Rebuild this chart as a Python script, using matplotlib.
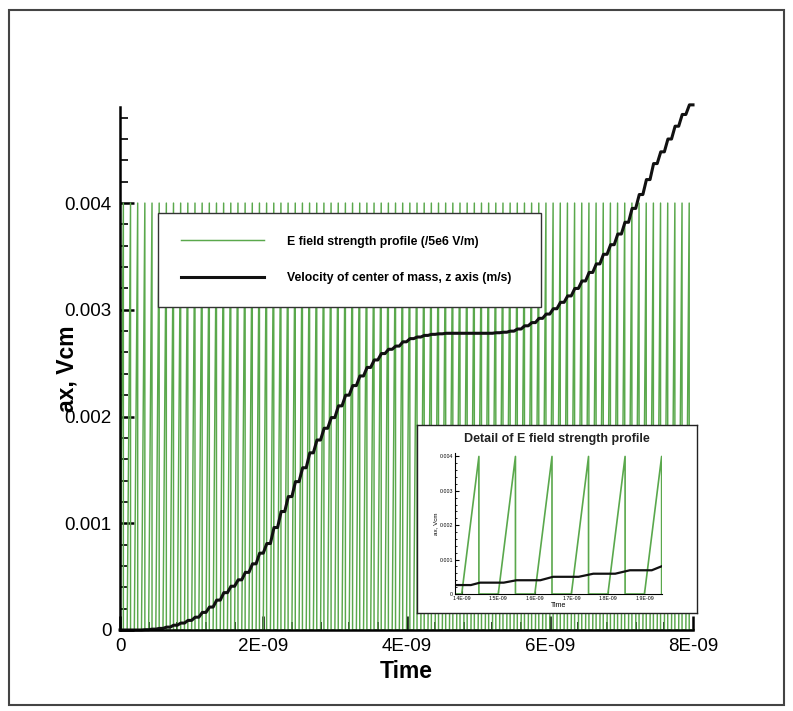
import numpy as np
import matplotlib
matplotlib.use("Agg")
import matplotlib.pyplot as plt
from matplotlib.ticker import MultipleLocator, FuncFormatter
from matplotlib.patches import Rectangle

plt.rcParams['font.family'] = ['Liberation Sans', 'DejaVu Sans']

# E field pulse train (scaled /5e6 V/m): one saw-tooth per period
pulse_period = 1e-10
pulse_count = 80
shape_frac = [0.0, 0.47, 0.47, 1.0]      # time within a period (fraction)
shape_field = [0.0, 0.004, 0.0, 0.0]     # field value at those times

# velocity of centre of mass at the start of each pulse period (m/s)
vel = np.array([
    0.0, 0.0, 0.0, 0.0, 0.003, 0.008, 0.015, 0.027, 0.045, 0.065,
    0.09, 0.12, 0.165, 0.215, 0.28, 0.35, 0.41, 0.47, 0.54, 0.62,
    0.72, 0.81, 0.96, 1.11, 1.25, 1.39, 1.52, 1.66, 1.78, 1.89,
    1.99, 2.10, 2.20, 2.29, 2.38, 2.46, 2.53, 2.59, 2.63, 2.66,
    2.70, 2.73, 2.745, 2.76, 2.77, 2.775, 2.78, 2.78, 2.78, 2.78,
    2.78, 2.78, 2.78, 2.785, 2.79, 2.80, 2.82, 2.85, 2.88, 2.92,
    2.96, 3.01, 3.07, 3.13, 3.20, 3.27, 3.35, 3.43, 3.52, 3.61,
    3.71, 3.82, 3.95, 4.08, 4.22, 4.37, 4.48, 4.60, 4.72, 4.83,
    4.92]) * 1e-3

# inset: detail between 1.38E-09 and 1.95E-09
inset_t = np.array([1.382, 1.425, 1.45, 1.515, 1.55, 1.615, 1.65,
                    1.72, 1.76, 1.82, 1.86, 1.92, 1.948]) * 1e-9
inset_v = np.array([0.26, 0.26, 0.33, 0.33, 0.40, 0.40, 0.50,
                    0.50, 0.59, 0.59, 0.69, 0.69, 0.81]) * 1e-3

starts = np.arange(pulse_count) * pulse_period
field_t = (starts[:, None] + np.array(shape_frac)[None, :] * pulse_period).ravel()
field_v = np.tile(shape_field, pulse_count)

# velocity rises while the pulse is on, then stays flat
vel_t = np.append(np.column_stack([starts, starts + 0.5 * pulse_period]).ravel(),
                  pulse_count * pulse_period)
vel_y = np.append(np.column_stack([vel[:-1], vel[1:]]).ravel(), vel[-1])

W, H = 793, 711
fig = plt.figure(figsize=(W / 100, H / 100), dpi=100)

ax = fig.add_axes([120 / W, 1 - 630 / H, 573 / W, 523 / H])
ax.plot(field_t, field_v, color='#5aa84c', lw=1.05,
        label='E field strength profile (/5e6 V/m)')
ax.plot(vel_t, vel_y, color='#111111', lw=2.2, clip_on=False,
        label='Velocity of center of mass, z axis (m/s)')
ax.set_xlim(0, 8e-9)
ax.set_ylim(0, 0.0049)
for s in ['top', 'right']:
    ax.spines[s].set_visible(False)
for s in ['left', 'bottom']:
    ax.spines[s].set_linewidth(1.8)
ax.xaxis.set_major_locator(MultipleLocator(2e-9))
ax.xaxis.set_minor_locator(MultipleLocator(4e-10))
ax.yaxis.set_major_locator(MultipleLocator(0.001))
ax.yaxis.set_minor_locator(MultipleLocator(0.0002))
ax.xaxis.set_major_formatter(FuncFormatter(lambda x, p: '0' if abs(x) < 1e-20 else '%.0E' % x))
ax.yaxis.set_major_formatter(FuncFormatter(lambda y, p: '0' if abs(y) < 1e-12 else '%g' % y))
ax.tick_params(which='major', direction='in', length=10, width=1.8, labelsize=13.5, pad=6)
ax.tick_params(which='minor', direction='in', length=6, width=1.2)
ax.set_xlabel('Time', fontsize=16.5, fontweight='bold', labelpad=3)
ax.set_ylabel('ax, Vcm', fontsize=16.5, fontweight='bold')
ax.yaxis.set_label_coords(-0.072, 0.5)

leg = ax.legend(loc='upper left', bbox_to_anchor=(158 / W, 1 - 303 / H, 383 / W, 90 / H),
                bbox_transform=fig.transFigure, mode='expand', borderaxespad=0,
                prop={'size': 8.8, 'weight': 'bold'}, handlelength=6.8, handletextpad=1.9,
                borderpad=1.85, labelspacing=2.0, fancybox=False, framealpha=1,
                edgecolor='#333333')
leg.get_frame().set_linewidth(1.0)

# inset box
box = fig.add_axes([417 / W, 1 - 613 / H, 280 / W, 188 / H])
box.set_xticks([])
box.set_yticks([])
box.set_facecolor('white')
for s in box.spines.values():
    s.set_linewidth(1.0)
    s.set_color('#222222')
fig.text(557 / W, 1 - 439 / H, 'Detail of E field strength profile',
         ha='center', va='center', fontsize=9, fontweight='bold', color='#222222')

ins = fig.add_axes([455 / W, 1 - 594 / H, 207 / W, 141 / H])
ins.patch.set_alpha(0)
ins.plot(field_t, field_v, color='#5aa84c', lw=1.2)
ins.plot(inset_t, inset_v, color='#111111', lw=1.6)
ins.set_xlim(1.3816e-9, 1.948e-9)
ins.set_ylim(0, 0.0041)
for s in ['top', 'right']:
    ins.spines[s].set_visible(False)
ins.xaxis.set_major_locator(MultipleLocator(1e-10))
ins.yaxis.set_major_locator(MultipleLocator(0.001))
ins.yaxis.set_minor_locator(MultipleLocator(0.0002))
ins.xaxis.set_major_formatter(FuncFormatter(lambda x, p: '%.1E' % x))
ins.yaxis.set_major_formatter(FuncFormatter(lambda y, p: '0' if abs(y) < 1e-12 else '%g' % y))
ins.tick_params(which='major', direction='in', length=3, width=0.8, labelsize=3.8, pad=1.5)
ins.tick_params(which='minor', direction='in', length=1.5, width=0.6)
ins.set_xlabel('Time', fontsize=5, labelpad=0.5)
ins.set_ylabel('ax, Vcm', fontsize=4.5, labelpad=1)

fig.add_artist(Rectangle((9 / W, 1 - 705 / H), 775 / W, 695 / H, transform=fig.transFigure,
                         fill=False, edgecolor='#444444', lw=1.5))

fig.savefig('out.png', dpi=100)
